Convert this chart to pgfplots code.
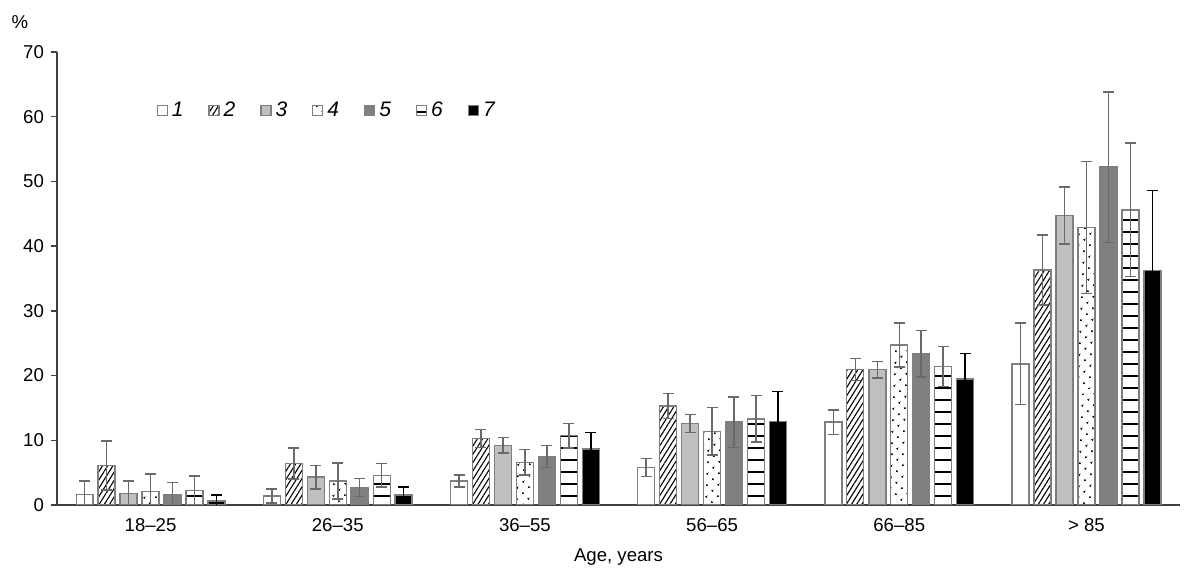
\documentclass[border=0pt]{standalone}
\usepackage{fontspec}
\setmainfont{Liberation Sans}
\usepackage{pgfplots}
\usepackage{pgfplotstable}
\pgfplotsset{compat=1.18}
\usetikzlibrary{patterns,patterns.meta}

\definecolor{edgegray}{HTML}{7F7F7F}
\definecolor{errgray}{HTML}{6A6A6A}
\definecolor{axgray}{HTML}{404040}
\definecolor{light}{HTML}{C0C0C0}
\definecolor{mid}{HTML}{808080}

% group, then value and error for series 1..7
\pgfplotstableread{
x  s1   e1   s2   e2   s3   e3   s4   e4   s5   e5   s6   e6   s7   e7
0  1.6  2.1  6.1  3.8  1.8  1.9  2.1  2.7  1.65 1.8  2.2  2.3  0.6  0.95
1  1.4  1.1  6.4  2.4  4.3  1.8  3.7  2.8  2.7  1.4  4.6  1.8  1.55 1.25
2  3.7  0.9  10.3 1.4  9.2  1.2  6.6  2.0  7.5  1.7  10.7 1.9  8.65 2.55
3  5.8  1.4  15.3 1.9  12.6 1.4  11.4 3.7  12.8 3.9  13.3 3.6  12.9 4.6
4  12.8 1.9  20.9 1.7  20.9 1.3  24.7 3.4  23.4 3.6  21.4 3.1  19.5 3.9
5  21.8 6.3  36.3 5.4  44.7 4.4  42.9 10.2 52.2 11.6 45.6 10.3 36.2 12.4
}\agedata

\begin{document}
\begin{tikzpicture}
\begin{axis}[
    scale only axis,
    width=561.5pt, height=226.5pt,
    xmin=-0.5, xmax=5.5,
    ymin=0, ymax=70,
    ytick={0,10,...,70},
    xtick={0,...,5},
    xticklabels={18–25,26–35,36–55,56–65,66–85,{> 85}},
    axis x line=bottom, axis y line=left,
    axis line style={-, color=axgray, line width=0.7pt},
    major x tick style={draw=none},
    major y tick style={color=axgray, line width=0.7pt},
    tick align=outside, major tick length=3pt,
    ytick pos=left,
    tick label style={font=\fontsize{9.3}{11}\selectfont, black},
    /pgf/number format/assume math mode=true,
    xlabel={Age, years},
    xlabel style={font=\fontsize{9.3}{11}\selectfont, yshift=-2pt},
    ybar, bar width=0.0907,
    legend image code/.code={\draw[#1, line width=0.6pt] (0pt,-2.5pt) rectangle (5pt,2.5pt);},
    legend columns=7,
    legend style={draw=none, fill=none, at={(rel axis cs:0.083,0.87)}, anchor=west,
        font=\fontsize{10.5}{12}\selectfont\itshape,
        /tikz/every even column/.append style={column sep=10.5pt}},
    error bars/y dir=both, error bars/y explicit,
    error bars/error bar style={color=errgray, line width=0.75pt},
    error bars/error mark options={rotate=90, mark size=2.75pt, line width=0.75pt, color=errgray},
    every axis plot/.append style={draw=edgegray, line width=0.7pt},
]
\addplot[fill=white, bar shift=-0.352] table[x=x, y=s1, y error=e1] {\agedata};
\addplot[fill=white, postaction={pattern={Lines[angle=58,distance=2.2pt,line width=0.55pt]}}, bar shift=-0.235] table[x=x, y=s2, y error=e2] {\agedata};
\addplot[fill=light, bar shift=-0.117] table[x=x, y=s3, y error=e3] {\agedata};
\addplot[fill=white, postaction={pattern={Dots[distance=4pt,radius=0.6pt,angle=45]}}, bar shift=0] table[x=x, y=s4, y error=e4] {\agedata};
\addplot[fill=mid, bar shift=0.117] table[x=x, y=s5, y error=e5] {\agedata};
\addplot[fill=white, postaction={pattern={Lines[angle=0,distance=6pt,line width=1.2pt]}}, bar shift=0.235] table[x=x, y=s6, y error=e6] {\agedata};
\addplot[fill=black, bar shift=0.352,
    error bars/error bar style={color=black, line width=0.75pt},
    error bars/error mark options={rotate=90, mark size=2.75pt, line width=0.75pt, color=black}]
    table[x=x, y=s7, y error=e7] {\agedata};
\legend{1,2,3,4,5,6,7}
\coordinate (sw) at (rel axis cs:0,0);
\coordinate (ne) at (rel axis cs:1,1);
\coordinate (nw) at (rel axis cs:0,1);
\end{axis}
\node[font=\fontsize{9.3}{11}\selectfont] at ([shift={(-18.5pt,15pt)}]nw) {\%};
\pgfresetboundingbox
\path[use as bounding box] ([shift={(-28.5pt,-37.5pt)}]sw) rectangle ([shift={(10pt,26pt)}]ne);
\end{tikzpicture}
\end{document}
